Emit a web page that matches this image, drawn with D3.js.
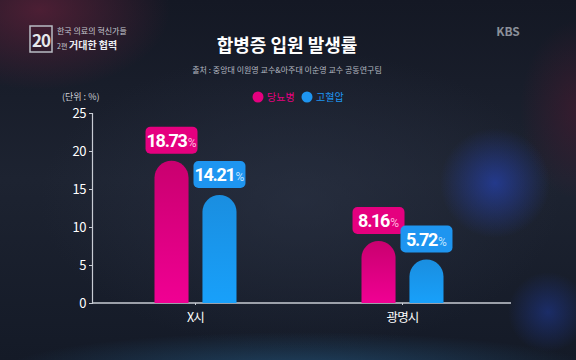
<!DOCTYPE html>
<html>
<head>
<meta charset="utf-8">
<script src="https://cdn.jsdelivr.net/npm/d3@7"></script>
<style>
  html, body { margin: 0; padding: 0; background: #161a25; }
  svg { display: block; }
  text { font-family: "Noto Sans CJK KR", "Noto Sans", sans-serif; }
</style>
</head>
<body>
<div id="chart"></div>
<script>
const width = 576;
const height = 360;

// 데이터
const regions = ["X시", "광명시"];
const series = ["당뇨병", "고혈압"];
const diabetes = [18.73, 8.16];
const hypertension = [14.21, 5.72];
const yTicks = [0, 5, 10, 15, 20, 25];

const colors = { "당뇨병": "#e5007f", "고혈압": "#1e95f0" };
const pctColors = { "당뇨병": "#ffb3dc", "고혈압": "#bfe2ff" };

const svg = d3.select("#chart")
    .append("svg")
    .attr("width", width)
    .attr("height", height);

const defs = svg.append("defs");

// 배경
const bg = defs.append("linearGradient").attr("id", "bg").attr("x1", 0).attr("y1", 0).attr("x2", 0).attr("y2", 1);
bg.append("stop").attr("offset", "0%").attr("stop-color", "#141824");
bg.append("stop").attr("offset", "50%").attr("stop-color", "#1d2331");
bg.append("stop").attr("offset", "100%").attr("stop-color", "#141a27");

function glow(id, color, op) {
    const g = defs.append("radialGradient").attr("id", id);
    g.append("stop").attr("offset", "0%").attr("stop-color", color).attr("stop-opacity", op);
    g.append("stop").attr("offset", "100%").attr("stop-color", color).attr("stop-opacity", 0);
}
glow("gRed", "#5a2038", 0.8);
glow("gRed2", "#4a1a30", 0.6);
glow("gBlue", "#2540a8", 0.75);
glow("gBlue2", "#1f3a9a", 0.55);
glow("gFloor", "#2a6a9a", 0.55);
glow("gCenter", "#2c3446", 0.6);

svg.append("rect").attr("width", width).attr("height", height).attr("fill", "url(#bg)");
svg.append("ellipse").attr("cx", 300).attr("cy", 200).attr("rx", 260).attr("ry", 150).attr("fill", "url(#gCenter)");
svg.append("ellipse").attr("cx", 40).attr("cy", 10).attr("rx", 130).attr("ry", 80).attr("fill", "url(#gRed)");
svg.append("ellipse").attr("cx", 580).attr("cy", 110).attr("rx", 60).attr("ry", 90).attr("fill", "url(#gRed2)");
svg.append("circle").attr("cx", 495).attr("cy", 183).attr("r", 55).attr("fill", "url(#gBlue)");
svg.append("circle").attr("cx", 548).attr("cy", 312).attr("r", 40).attr("fill", "url(#gBlue2)");
svg.append("ellipse").attr("cx", 300).attr("cy", 372).attr("rx", 300).attr("ry", 40).attr("fill", "url(#gFloor)");

// 로고
const logo = svg.append("g");
logo.append("rect").attr("x", 30).attr("y", 26).attr("width", 22).attr("height", 26)
    .attr("fill", "none").attr("stroke", "#b8bcc4").attr("stroke-width", 1.5);
logo.append("text").attr("x", 41).attr("y", 47).attr("text-anchor", "middle")
    .attr("font-family", "Roboto").attr("font-weight", 700).attr("font-size", 17)
    .attr("letter-spacing", -1).attr("fill", "#e6e8ec").text("20");
logo.append("text").attr("x", 57).attr("y", 34).attr("font-size", 8).attr("fill", "#c4c7cf").text("한국 의료의 혁신가들");
logo.append("text").attr("x", 57).attr("y", 49).attr("font-size", 7).attr("fill", "#c4c7cf").text("2편");
logo.append("text").attr("x", 69).attr("y", 49).attr("font-size", 10).attr("font-weight", 700).attr("fill", "#eceef2").text("거대한 협력");

svg.append("text").attr("x", 508).attr("y", 36).attr("text-anchor", "middle")
    .attr("font-family", "DejaVu Sans").attr("font-weight", 700).attr("font-size", 12)
    .attr("fill", "#8b909a").text("KBS");

// 제목
svg.append("text").attr("x", 287).attr("y", 52).attr("text-anchor", "middle")
    .attr("font-size", 18).attr("font-weight", 700).attr("fill", "#ffffff").text("합병증 입원 발생률");
svg.append("text").attr("x", 287).attr("y", 73).attr("text-anchor", "middle")
    .attr("font-size", 8).attr("fill", "#b4b8c0").text("출처 : 중앙대 이원영 교수&아주대 이순영 교수 공동연구팀");

// 스케일
const x0 = d3.scaleBand().domain(regions).range([92, 506]);
const x1 = d3.scaleBand().domain(series).range([-41, 41]).paddingInner(0.29);
const y = d3.scaleLinear().domain([0, 25]).range([303, 113]);

// 축
const yAxis = d3.axisLeft(y).tickValues(yTicks).tickSize(3).tickPadding(3);
const gy = svg.append("g").attr("transform", "translate(92,0)").call(yAxis);
gy.select(".domain").attr("stroke", "#c8ccd4").attr("stroke-width", 1.2);
gy.selectAll(".tick line").attr("stroke", "#c8ccd4");
gy.selectAll(".tick text").attr("fill", "#ffffff").attr("font-family", "Roboto")
    .attr("font-size", 13).attr("letter-spacing", -0.5);

const xAxis = d3.axisBottom(x0).tickSize(2).tickPadding(8);
const gx = svg.append("g").attr("transform", "translate(0,303)").call(xAxis);
gx.select(".domain").attr("d", "M92,0H511").attr("stroke", "#c8ccd4").attr("stroke-width", 1.5);
gx.selectAll(".tick line").attr("stroke", "#c8ccd4");
gx.selectAll(".tick text").attr("fill", "#ffffff").attr("font-size", 12.5)
    .attr("font-family", "Noto Sans CJK KR").attr("letter-spacing", -0.8);

svg.append("text").attr("x", 62).attr("y", 100).attr("font-size", 9).attr("fill", "#cfd2d8").text("(단위 : %)");

// 범례
const legend = svg.append("g");
series.forEach((s, i) => {
    const lx = 258 + i * 49;
    legend.append("circle").attr("cx", lx).attr("cy", 97).attr("r", 5.5).attr("fill", colors[s]);
    legend.append("text").attr("x", lx + 9).attr("y", 101).attr("font-size", 10)
        .attr("fill", colors[s]).text(s);
});

// 막대 그라데이션
const pg = defs.append("linearGradient").attr("id", "pinkBar").attr("x1", 0).attr("y1", 0).attr("x2", 0).attr("y2", 1);
pg.append("stop").attr("offset", "0%").attr("stop-color", "#c9006f");
pg.append("stop").attr("offset", "100%").attr("stop-color", "#f00093");
const bgr = defs.append("linearGradient").attr("id", "blueBar").attr("x1", 0).attr("y1", 0).attr("x2", 0).attr("y2", 1);
bgr.append("stop").attr("offset", "0%").attr("stop-color", "#1a8ee0");
bgr.append("stop").attr("offset", "100%").attr("stop-color", "#18a0fa");
const barFill = { "당뇨병": "url(#pinkBar)", "고혈압": "url(#blueBar)" };

const rows = regions.map((r, i) => ({ region: r, values: [
    { key: "당뇨병", value: diabetes[i] },
    { key: "고혈압", value: hypertension[i] }
]}));

function barPath(xl, w, top, bottom) {
    const r = w / 2;
    return `M${xl},${bottom}V${top + r}A${r},${r} 0 0 1 ${xl + w},${top + r}V${bottom}Z`;
}

rows.forEach(row => {
    const cx = x0(row.region) + x0.bandwidth() / 2;
    row.values.forEach(v => {
        const xl = cx + x1(v.key);
        const w = x1.bandwidth();
        svg.append("path")
            .attr("d", barPath(xl, w, y(v.value), y(0)))
            .attr("fill", barFill[v.key]);

        // 라벨
        const bx = xl + w / 2;
        const bw = 52, bh = 27;
        const by = y(v.value) - 7 - bh;
        svg.append("rect").attr("x", bx - bw / 2).attr("y", by).attr("width", bw).attr("height", bh)
            .attr("rx", 5).attr("fill", colors[v.key]);
        const t = svg.append("text").attr("x", bx).attr("y", by + 20).attr("text-anchor", "middle");
        t.append("tspan").attr("font-family", "Roboto").attr("font-weight", 700).attr("font-size", 18)
            .attr("letter-spacing", -1.3).attr("fill", "#ffffff").text(v.value.toFixed(2));
        t.append("tspan").attr("font-family", "Roboto").attr("font-size", 12).attr("dx", 1)
            .attr("fill", pctColors[v.key]).text("%");
    });
});
</script>
</body>
</html>
